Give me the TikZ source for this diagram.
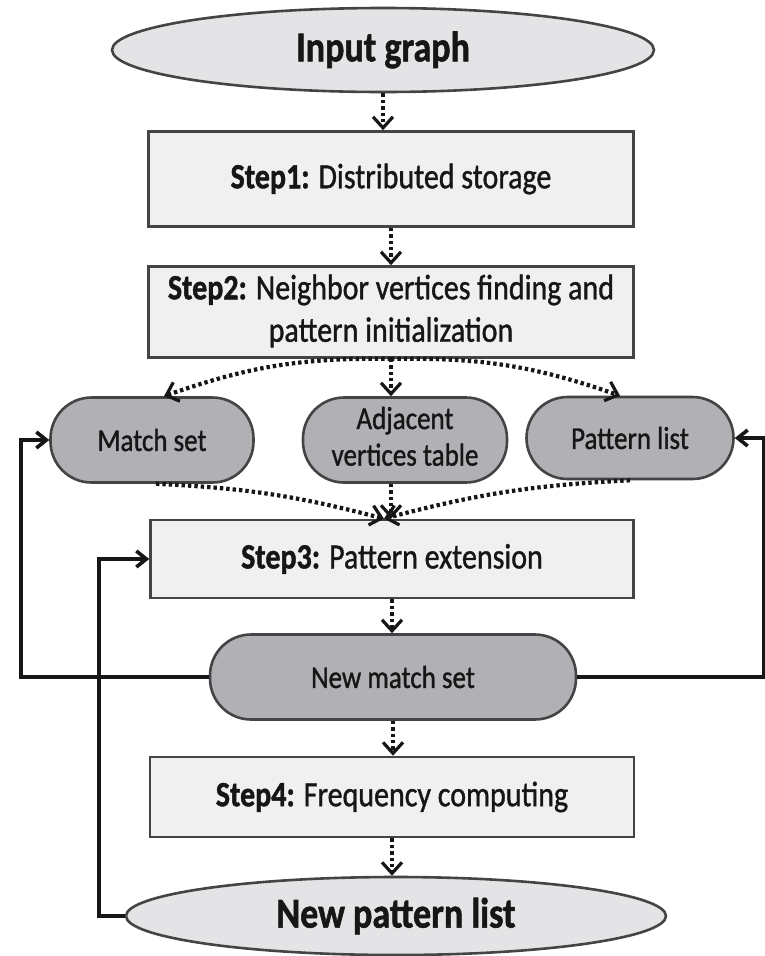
\documentclass[tikz,border=0pt]{standalone}
\usepackage{fontspec}
\setmainfont{Carlito}[UprightFeatures={FakeBold=1.2},BoldFeatures={FakeBold=1.4}]
\usepackage{graphicx}
\usetikzlibrary{arrows.meta,shapes.geometric}

\definecolor{boxfill}{HTML}{F0F0F0}
\definecolor{ovalfill}{HTML}{E4E4E6}
\definecolor{pillfill}{HTML}{B1B1B5}
\definecolor{edge}{HTML}{444444}
\definecolor{ink}{HTML}{161616}

% labels are set slightly taller than wide
\newcommand\tallt[1]{\scalebox{1}[1.18]{#1}}

\begin{document}
\begin{tikzpicture}[x=1pt,y=-1pt,
  stepbox/.style={draw=edge, fill=boxfill, line width=2.6pt, rectangle,
    minimum width=485pt, inner sep=0pt, text=ink,
    font=\fontsize{30}{36}\selectfont},
  oval/.style={draw=edge, fill=ovalfill, line width=2.6pt, ellipse,
    minimum width=542pt, minimum height=84pt, inner sep=0pt, text=ink,
    font=\fontsize{36}{40}\selectfont\bfseries},
  pill/.style={draw=edge, fill=pillfill, line width=2.6pt, rectangle,
    rounded corners=41pt, minimum height=85pt, inner sep=0pt, text=ink,
    font=\fontsize{27}{31}\selectfont},
  flow/.style={draw=ink, line width=4.2pt, dash pattern=on 3.4pt off 3pt,
    -{Straight Barb[length=11pt,width=20pt,line width=3.2pt]}},
  loopline/.style={draw=ink, line width=3.6pt,
    -{Straight Barb[length=10pt,width=16pt]}}
]
\useasboundingbox (0,0) rectangle (765,956);

% main column
\node[oval] (ig) at (383,50) {\tallt{Input graph}};
\node[stepbox, minimum height=95pt] (s1) at (391,179)
  {\tallt{\textbf{Step1:} Distributed storage}};
\node[stepbox, minimum height=91pt] (s2) at (391,312)
  {\tallt{\begin{tabular}{@{}c@{}}\textbf{Step2:} Neighbor vertices finding and\\pattern initialization\end{tabular}}};

% data produced by step 2
\node[pill, minimum width=203pt] (ms) at (152,440) {\tallt{Match set}};
\node[pill, minimum width=204pt] (av) at (405,440)
  {\tallt{\begin{tabular}{@{}c@{}}Adjacent\\vertices table\end{tabular}}};
\node[pill, minimum width=207pt, minimum height=82pt] (pl) at (630,438) {\tallt{Pattern list}};

\node[stepbox, minimum width=483pt, minimum height=78pt] (s3) at (392,559)
  {\tallt{\textbf{Step3:} Pattern extension}};
\node[pill, minimum width=366pt] (nm) at (393,677) {\tallt{New match set}};
\node[stepbox, minimum width=484pt, minimum height=80pt] (s4) at (392,797)
  {\tallt{\textbf{Step4:} Frequency computing}};
\node[oval, minimum width=540pt, minimum height=78pt] (np) at (396,916) {\tallt{New pattern list}};

% dotted flow arrows
\draw[flow] (ig.south) -- (ig.south |- s1.north);
\draw[flow] (s1.south) -- (s1.south |- s2.north);
\draw[flow] (s2.south) -- (s2.south |- av.north);
\draw[flow] (s2.south) to[bend right=10] ([xshift=12pt]ms.north);
\draw[flow] (s2.south) to[bend left=10] ([xshift=-10pt]pl.north);

\coordinate (s3in) at ([xshift=-8pt]s3.north);
\draw[flow] ([xshift=4pt]ms.south) to[bend left=6] (s3in);
\draw[flow] (s2.south |- av.south) -- (s2.south |- s3.north);
\draw[flow] (pl.south) to[bend right=6] (s3in);

\draw[flow] (s3.south) -- (s3.south |- nm.north);
\draw[flow] (nm.south) -- (nm.south |- s4.north);
\draw[flow] (s4.south) -- (s4.south |- np.north);

% feedback loops
\draw[loopline] (nm.west) -| ([xshift=-28.5pt]ms.west) -- (ms.west);
\draw[loopline] (nm.east) -| ([xshift=28.5pt]pl.east) -- (pl.east);
\draw[loopline] (np.west) -| ([xshift=-50.5pt]s3.west) -- (s3.west);
\end{tikzpicture}
\end{document}
